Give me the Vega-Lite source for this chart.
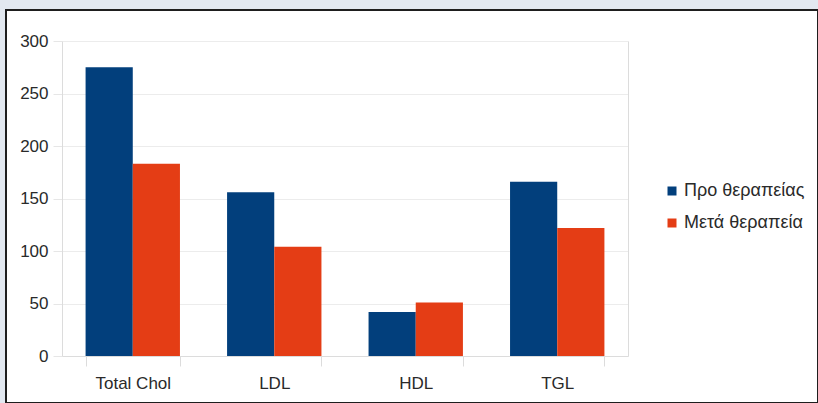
{
  "$schema": "https://vega.github.io/schema/vega-lite/v6.json",
  "width": 812,
  "height": 393,
  "padding": {"left": 6, "top": 10, "right": 0, "bottom": 0},
  "autosize": {"type": "none"},
  "data": {
    "values": [
      {"test": "Total Chol", "series": "Προ θεραπείας", "value": 275},
      {"test": "Total Chol", "series": "Μετά θεραπεία", "value": 183},
      {"test": "LDL", "series": "Προ θεραπείας", "value": 156},
      {"test": "LDL", "series": "Μετά θεραπεία", "value": 104},
      {"test": "HDL", "series": "Προ θεραπείας", "value": 42},
      {"test": "HDL", "series": "Μετά θεραπεία", "value": 51},
      {"test": "TGL", "series": "Προ θεραπείας", "value": 166},
      {"test": "TGL", "series": "Μετά θεραπεία", "value": 122}
    ]
  },
  "encoding": {
    "x": {
      "field": "test",
      "type": "nominal",
      "sort": ["Total Chol", "LDL", "HDL", "TGL"],
      "scale": {"range": [56, 622], "paddingInner": 0.333, "paddingOuter": 0.1667},
      "axis": {
        "title": null,
        "labelAngle": 0,
        "offset": -47,
        "tickBand": "extent",
        "tickSize": 10,
        "tickColor": "#dcdcdc",
        "domainColor": "#dcdcdc",
        "grid": false,
        "labelPadding": 9
      }
    },
    "xOffset": {
      "field": "series",
      "type": "nominal",
      "sort": ["Προ θεραπείας", "Μετά θεραπεία"],
      "scale": {"paddingInner": 0, "paddingOuter": 0}
    },
    "y": {
      "field": "value",
      "type": "quantitative",
      "scale": {"domain": [0, 300], "range": [346, 31], "nice": false}
    },
    "color": {
      "field": "series",
      "type": "nominal",
      "sort": ["Προ θεραπείας", "Μετά θεραπεία"],
      "scale": {"domain": ["Προ θεραπείας", "Μετά θεραπεία"], "range": ["#023f7c", "#e43d15"]},
      "legend": {
        "title": null,
        "orient": "none",
        "legendX": 657,
        "legendY": 172,
        "symbolType": "square",
        "symbolSize": 81,
        "symbolStrokeWidth": 0,
        "labelOffset": 3,
        "labelFontSize": 18,
        "rowPadding": 14,
        "padding": 0
      }
    }
  },
  "layer": [
    {
      "mark": {"type": "bar"},
      "encoding": {
        "y": {
          "field": "value",
          "type": "quantitative",
          "axis": {
            "title": null,
            "values": [0, 50, 100, 150, 200, 250, 300],
            "offset": -56,
            "tickSize": 9,
            "tickColor": "#e6e6e6",
            "gridColor": "#ececec",
            "domainColor": "#dcdcdc",
            "labelPadding": 5
          }
        }
      }
    },
    {
      "mark": {"type": "bar", "opacity": 0},
      "encoding": {
        "y": {
          "field": "value",
          "type": "quantitative",
          "axis": {
            "orient": "right",
            "title": null,
            "offset": -190,
            "labels": false,
            "ticks": false,
            "grid": false,
            "domainColor": "#dcdcdc"
          }
        }
      }
    }
  ],
  "resolve": {"axis": {"y": "independent"}},
  "config": {
    "background": "#e2e8f0",
    "font": "Liberation Sans",
    "view": {"fill": "white", "stroke": "#1e1e1e", "strokeWidth": 2},
    "axis": {"labelFont": "Liberation Sans", "labelFontSize": 17, "labelColor": "#2a2a2a"},
    "legend": {"labelFont": "Liberation Sans", "labelFontSize": 18, "labelColor": "#2a2a2a"}
  }
}
